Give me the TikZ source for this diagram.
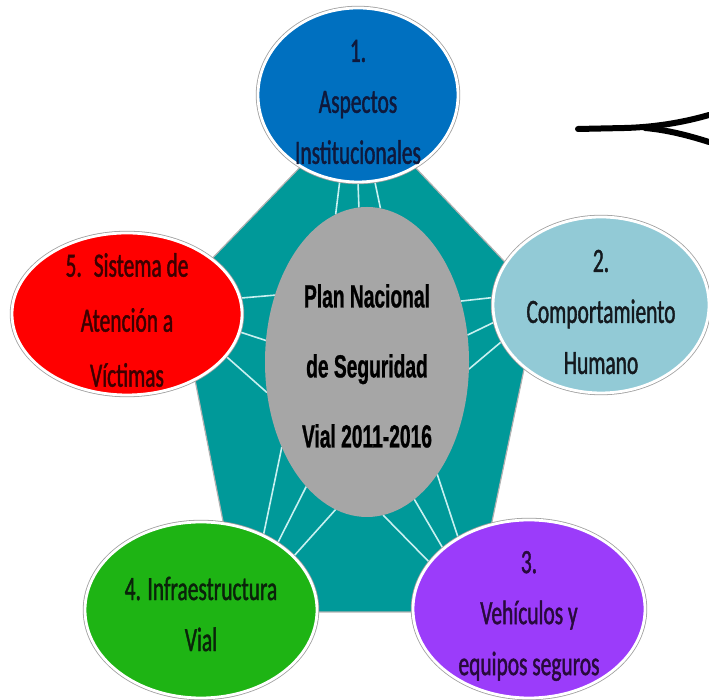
\documentclass[tikz,border=0pt]{standalone}
\usepackage{fontspec}
\usetikzlibrary{shapes.geometric}
\newfontfamily\calfont[FakeStretch=0.63,FakeBold=1.2]{Carlito}
\newfontfamily\arbfont[FakeStretch=0.6,FakeBold=0.8]{Liberation Sans Bold}
\definecolor{tealc}{RGB}{0,153,153}
\definecolor{bluec}{RGB}{0,112,192}
\definecolor{ltealc}{RGB}{146,202,214}
\definecolor{purplec}{RGB}{155,60,250}
\definecolor{greenc}{RGB}{30,180,20}
\definecolor{redc}{RGB}{255,0,0}
\definecolor{grayc}{RGB}{166,166,166}
\definecolor{spokec}{RGB}{200,240,240}
\definecolor{tblue}{RGB}{15,25,60}
\definecolor{tdark}{RGB}{20,25,30}
\definecolor{tpurple}{RGB}{40,10,60}
\definecolor{tgreen}{RGB}{10,35,10}
\definecolor{tred}{RGB}{60,0,0}
\tikzset{
  outer/.style={ellipse, inner sep=0pt, outer sep=0pt,
    preaction={draw=gray!75, line width=4.4pt},
    draw=white, line width=2.8pt},
  lbl/.style={align=center, font=\calfont\fontsize{34}{51}\selectfont, inner sep=0pt},
  spoke/.style={draw=spokec, line width=1.6pt},
  arrowline/.style={draw=black, line width=6pt, line cap=round}
}
\begin{document}
\begin{tikzpicture}[x=1pt,y=1pt]
\useasboundingbox (0,0) rectangle (709,700);
% pentagon
\coordinate (p1) at (358,593);
\coordinate (p2) at (539,402);
\coordinate (p3) at (473,88);
\coordinate (p4) at (241,88);
\coordinate (p5) at (178,406);
\draw[fill=tealc, draw=gray!60, line width=1.2pt] (p1) -- (p2) -- (p3) -- (p4) -- (p5) -- cycle;
% nodes (shapes only, for anchors)
\node[ellipse, inner sep=0pt, outer sep=0pt, minimum width=204pt, minimum height=310pt] (c) at (367,338) {};
\node[ellipse, inner sep=0pt, outer sep=0pt, minimum width=200pt, minimum height=174pt] (e1s) at (358,605) {};
\node[ellipse, inner sep=0pt, outer sep=0pt, minimum width=216pt, minimum height=176pt] (e2s) at (601,395) {};
\node[ellipse, inner sep=0pt, outer sep=0pt, minimum width=232pt, minimum height=178pt] (e3s) at (529,91) {};
\node[ellipse, inner sep=0pt, outer sep=0pt, minimum width=232pt, minimum height=176pt] (e4s) at (201,90) {};
\node[ellipse, inner sep=0pt, outer sep=0pt, minimum width=230pt, minimum height=162pt] (e5s) at (127,386) {};
% spokes
\draw[spoke] (c.102.8) -- (e1s.258.3);
\draw[spoke] (c.93.3) -- (e1s.270);
\draw[spoke] (c.85.2) -- (e1s.281.7);
\draw[spoke] (c.33.7) -- (e2s.176.3);
\draw[spoke] (c.15.7) -- (e2s.189.1);
\draw[spoke] (c.-4.4) -- (e2s.200.1);
\draw[spoke] (c.276.6) -- (e3s.155.5);
\draw[spoke] (c.289.5) -- (e3s.145.1);
\draw[spoke] (c.302.4) -- (e3s.135.8);
\draw[spoke] (c.225.3) -- (e4s.50.9);
\draw[spoke] (c.244.5) -- (e4s.41);
\draw[spoke] (c.258.8) -- (e4s.30.3);
\draw[spoke] (c.144.8) -- (e5s.8.4);
\draw[spoke] (c.168.7) -- (e5s.351.1);
\draw[spoke] (c.197.4) -- (e5s.337.3);
% center ellipse
\node[ellipse, fill=grayc, inner sep=0pt, minimum width=204pt, minimum height=310pt] (cf) at (367,338) {};
\node[align=center, inner sep=0pt, font=\arbfont\fontsize{32}{70}\selectfont, text=black] (ct) at (367,334)
  {Plan Nacional\\de Seguridad\\Vial 2011-2016};
% outer ellipses
\node[outer, fill=bluec, minimum width=200pt, minimum height=174pt] (e1) at (358,605) {};
\node[outer, fill=ltealc, minimum width=216pt, minimum height=176pt] (e2) at (601,395) {};
\node[outer, fill=purplec, minimum width=232pt, minimum height=178pt] (e3) at (529,91) {};
\node[outer, fill=greenc, minimum width=232pt, minimum height=176pt] (e4) at (201,90) {};
\node[outer, fill=redc, minimum width=230pt, minimum height=162pt] (e5) at (127,386) {};
% labels
\node[lbl, text=tblue] (t1) at (358,598) {1.\\Aspectos\\Institucionales};
\node[lbl, text=tdark] (t2) at (601,388) {2.\\Comportamiento\\Humano};
\node[lbl, text=tpurple] (t3) at (529,84) {3.\\Vehículos y\\equipos seguros};
\node[lbl, text=tgreen] (t4) at (201,86) {4. Infraestructura\\Vial};
\node[lbl, text=tred, font=\calfont\fontsize{34}{55}\selectfont] (t5) at (127,380) {5.\hspace{12pt}Sistema de\\Atención a\\Víctimas};
% arrow-like stroke at top right
\coordinate (a0) at (578,571);
\coordinate (a1) at (709,585);
\coordinate (a2) at (709,558);
\draw[arrowline] (a0) -- (625,572) .. controls (660,573) and (688,579) .. (a1);
\draw[arrowline] (645,572) .. controls (668,570) and (690,564) .. (a2);
\end{tikzpicture}
\end{document}
